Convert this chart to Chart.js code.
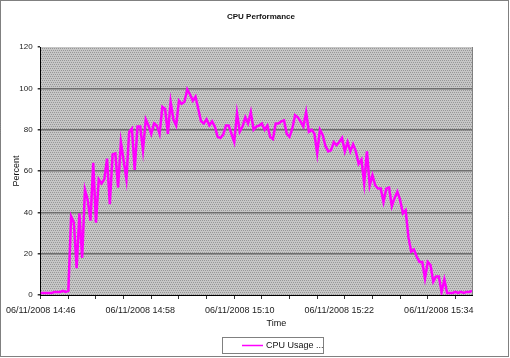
<!DOCTYPE html>
<html>
<head>
<meta charset="utf-8">
<script src="https://cdn.jsdelivr.net/npm/chart.js"></script>
<style>
  html, body { margin: 0; padding: 0; background: #fff; }
  #wrap { width: 510px; height: 358px; }
</style>
</head>
<body>
<div id="wrap"><canvas id="chart" width="510" height="358"></canvas></div>
<script>
// CPU usage sampled every 20 s, starting 06/11/2008 14:46
const startTime = '14:46';
const sampleSeconds = 20;
const cpuUsage = [
  1, 1, 1, 1, 1, 1.5, 1.5, 1.5, 2, 1.5,
  2, 38, 35, 13, 39.5, 18, 51, 46, 36, 64,
  35, 56, 54, 56, 66, 44, 68, 68.5, 52, 74,
  65, 56, 79, 80.5, 60.5, 81.5, 81.5, 70, 85, 82,
  78, 83, 82, 78, 91, 90, 78, 93.5, 85, 82,
  94, 92.5, 93.5, 99.5, 97, 94, 96, 90, 84, 83,
  85, 82, 84, 81.5, 76.5, 76, 77.5, 82, 82, 78,
  74, 88, 79, 81.5, 86, 83, 88.5, 80, 81.5, 82,
  83, 80, 82, 76.5, 75.5, 83, 83, 84, 84.5, 78,
  76.5, 80.5, 87, 86, 84, 81.5, 88.5, 79, 80, 78,
  68.5, 80, 77.5, 72, 69.5, 70, 74, 72.5, 74, 76,
  69.5, 74, 69.5, 73, 69.5, 63.5, 65.5, 54, 69.5, 53,
  58, 53, 51.5, 51.5, 45, 51.5, 52, 43, 47, 50,
  46, 39.5, 41, 28, 21, 22, 18.5, 16, 16, 8,
  16, 14.5, 6.5, 9, 9, 1.5, 7.5, 1, 1, 1,
  1.5, 1, 1.5, 1, 1.5, 1.5, 2
];
const yTicks = [0, 20, 40, 60, 80, 100, 120];
const tickMarkEvery = 10;   // categories between x tick marks
const labelEvery = 36;      // categories between x labels (12 min)

// category labels
const [h0, m0] = startTime.split(':').map(Number);
const timeLabels = cpuUsage.map((_, i) => {
  const t = h0 * 3600 + m0 * 60 + i * sampleSeconds;
  const hh = String(Math.floor(t / 3600)).padStart(2, '0');
  const mm = String(Math.floor(t / 60) % 60).padStart(2, '0');
  return '06/11/2008 ' + hh + ':' + mm;
});

const font = 'Arial, "Liberation Sans", sans-serif';

function makePattern(ctx) {
  const c = document.createElement('canvas');
  c.width = 4; c.height = 4;
  const p = c.getContext('2d');
  p.fillStyle = '#c6c6c6';
  p.fillRect(0, 0, 4, 4);
  p.fillStyle = '#979797';
  [[0, 0], [2, 0], [1, 2], [3, 2]].forEach(([x, y]) => p.fillRect(x, y, 1, 1));
  return ctx.createPattern(c, 'repeat');
}

const decorations = {
  id: 'decorations',
  beforeDraw(chart) {
    const { ctx, chartArea: a } = chart;
    ctx.save();
    ctx.fillStyle = makePattern(ctx);
    ctx.fillRect(a.left, a.top, a.right - a.left, a.bottom - a.top);
    ctx.restore();
  },
  afterDraw(chart) {
    const { ctx, chartArea: a, width, height } = chart;
    ctx.save();
    // outer dotted frame
    ctx.strokeStyle = '#000';
    ctx.lineWidth = 1;
    ctx.setLineDash([1, 1]);
    ctx.strokeRect(0.5, 0.5, width - 2, height - 2);
    // plot right edge
    ctx.setLineDash([]);
    ctx.strokeStyle = '#808080';
    ctx.beginPath();
    ctx.moveTo(a.right + 0.5, a.top);
    ctx.lineTo(a.right + 0.5, a.bottom);
    ctx.stroke();

    ctx.fillStyle = '#111';
    ctx.textAlign = 'center';
    ctx.textBaseline = 'middle';
    // title
    ctx.font = 'bold 8px ' + font;
    ctx.fillText('CPU Performance', 261, 17);
    // axis titles
    ctx.font = '9px ' + font;
    ctx.fillText('Time', a.left + (a.right - a.left) / 2 + 20, 324);
    ctx.save();
    ctx.translate(17, (a.top + a.bottom) / 2);
    ctx.rotate(-Math.PI / 2);
    ctx.fillText('Percent', 0, 0);
    ctx.restore();

    // legend
    const ds = chart.data.datasets[0];
    ctx.setLineDash([1, 1]);
    ctx.strokeStyle = '#000';
    ctx.strokeRect(222.5, 337.5, 101, 16);
    ctx.setLineDash([]);
    ctx.strokeStyle = ds.borderColor;
    ctx.lineWidth = 1.5;
    ctx.beginPath();
    ctx.moveTo(242, 345.5);
    ctx.lineTo(263, 345.5);
    ctx.stroke();
    ctx.fillStyle = '#111';
    ctx.textAlign = 'left';
    ctx.font = '9px ' + font;
    ctx.fillText(ds.label, 266, 346);
    ctx.restore();
  }
};

new Chart(document.getElementById('chart'), {
  type: 'line',
  data: {
    labels: timeLabels,
    datasets: [{
      label: 'CPU Usage ...',
      data: cpuUsage,
      borderColor: '#ff00ff',
      borderWidth: 2.5,
      pointRadius: 0,
      tension: 0,
      fill: false
    }]
  },
  options: {
    responsive: false,
    animation: false,
    events: [],
    layout: { padding: { top: 47, right: 38, left: 0, bottom: 0 } },
    plugins: {
      legend: { display: false },
      title: { display: false },
      tooltip: { enabled: false }
    },
    scales: {
      x: {
        type: 'category',
        offset: false,
        afterFit: s => { s.height = 63; },
        border: { display: true, color: '#000', width: 1 },
        grid: {
          drawOnChartArea: false,
          drawTicks: true,
          tickLength: 4,
          lineWidth: 1,
          color: c => (c.index % tickMarkEvery === 0 ? '#333' : 'rgba(0,0,0,0)')
        },
        ticks: {
          autoSkip: false,
          maxRotation: 0,
          minRotation: 0,
          padding: 6,
          color: '#222',
          font: { family: font, size: 9 },
          callback: (v, i) => (i % labelEvery === 0 ? timeLabels[i] : '')
        }
      },
      y: {
        min: yTicks[0],
        max: yTicks[yTicks.length - 1],
        afterFit: s => { s.width = 40; },
        afterBuildTicks: s => { s.ticks = yTicks.map(v => ({ value: v })); },
        border: { display: true, color: '#000', width: 1 },
        grid: {
          lineWidth: 1.5,
          color: c => (c.tick && (c.tick.value === 0 || c.tick.value === 120) ? 'rgba(0,0,0,0)' : '#6f6f6f'),
          tickColor: '#333',
          tickLength: 3
        },
        ticks: {
          padding: 5,
          color: '#222',
          font: { family: font, size: 8 }
        }
      }
    }
  },
  plugins: [decorations]
});
</script>
</body>
</html>
